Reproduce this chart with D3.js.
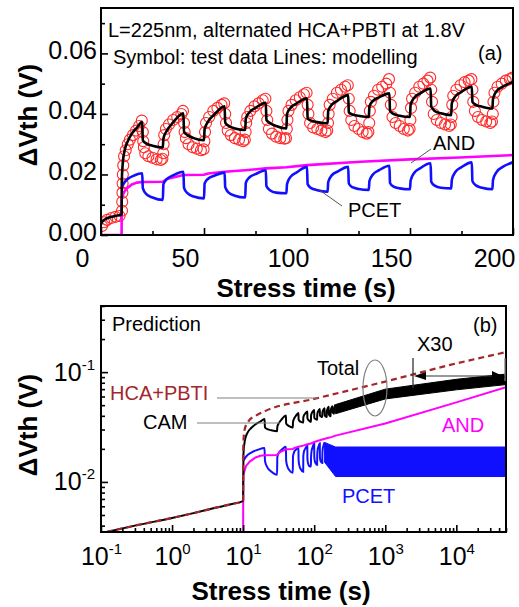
<!DOCTYPE html>
<html>
<head>
<meta charset="utf-8">
<script src="https://cdn.jsdelivr.net/npm/d3@7"></script>
<style>
  body { margin: 0; background: #fff; }
  text { font-family: "Liberation Sans", Arial, sans-serif; }
</style>
</head>
<body>
<svg id="fig" width="519" height="607"></svg>
<script>
// ---- data: [time (s), dVth (V)] ----
const drift = [[0.12,0.0035],[0.3,0.0040],[1,0.0047],[2,0.0052],[4.5,0.0059],[7,0.0063],[9.9,0.0067]];

const testData = [
  [0.5,0.0030],[1.5,0.0042],[3,0.0050],[5,0.0056],[7,0.0060],[9,0.0063],
  [10.2,0.008],[10.3,0.011],[10.4,0.014],[10.5,0.017],[10.6,0.020],[10.8,0.023],[11.2,0.026],[12,0.028],[13,0.030],[14,0.0315],[15.5,0.033],[17,0.0345],[18.5,0.036],[19.8,0.0378],
  [20.3,0.034],[20.5,0.031],[20.8,0.029],[21.5,0.027],[23,0.026],[25,0.0255],[27,0.025],[29,0.0248],[29.8,0.0252],
  [30.2,0.027],[30.4,0.030],[30.7,0.033],[31.5,0.035],[33,0.0365],[35,0.038],[37,0.039],[39,0.040],[39.8,0.041],
  [40.3,0.037],[40.6,0.034],[41.2,0.032],[42.5,0.030],[44.5,0.029],[46.5,0.0285],[48.5,0.028],[49.8,0.0283],
  [50.2,0.031],[50.5,0.034],[51,0.037],[52.5,0.039],[54.5,0.041],[56.5,0.042],[58.5,0.043],[59.8,0.0435],
  [60.3,0.040],[60.7,0.037],[61.5,0.0345],[63,0.033],[65,0.032],[67,0.0315],[69,0.031],[69.8,0.0315],
  [70.2,0.034],[70.5,0.037],[71,0.039],[72.5,0.041],[74.5,0.0425],[76.5,0.0435],[78.5,0.0445],[79.8,0.045],
  [80.3,0.041],[80.7,0.038],[81.5,0.035],[83,0.0335],[85,0.0325],[87,0.032],[89,0.0318],[89.8,0.032],
  [90.2,0.035],[90.5,0.038],[91,0.041],[92.5,0.043],[94.5,0.0445],[96.5,0.0455],[98.5,0.0465],[99.8,0.047],
  [100.3,0.043],[100.7,0.040],[101.5,0.037],[103,0.0355],[105,0.035],[107,0.0345],[109,0.034],[109.8,0.0345],
  [110.2,0.037],[110.5,0.040],[111,0.043],[112.5,0.045],[114.5,0.047],[116.5,0.048],[118.5,0.049],[119.8,0.0495],
  [120.3,0.045],[120.7,0.041],[121.5,0.038],[123,0.036],[125,0.035],[127,0.034],[129,0.0335],[129.8,0.034],
  [130.2,0.037],[130.5,0.041],[131,0.044],[132.5,0.046],[134.5,0.048],[136.5,0.049],[138.5,0.050],[139.8,0.0515],
  [140.3,0.047],[140.7,0.043],[141.5,0.039],[143,0.037],[145,0.036],[147,0.035],[149,0.0345],[149.8,0.035],
  [150.2,0.038],[150.5,0.042],[151,0.045],[152.5,0.047],[154.5,0.049],[156.5,0.050],[158.5,0.051],[159.8,0.052],
  [160.3,0.048],[160.7,0.044],[161.5,0.040],[163,0.038],[165,0.037],[167,0.0365],[169,0.036],[169.8,0.0365],
  [170.2,0.039],[170.5,0.043],[171,0.046],[172.5,0.048],[174.5,0.0495],[176.5,0.0505],[178.5,0.051],[179.8,0.0515],
  [180.3,0.048],[180.7,0.044],[181.5,0.041],[183,0.039],[185,0.038],[187,0.0375],[189,0.037],[189.8,0.0375],
  [190.2,0.040],[190.5,0.044],[191,0.047],[192.5,0.049],[194.5,0.050],[196.5,0.051],[198.5,0.0515],[199.8,0.052]
];

const camModel = [
  [10,0.0068],[10.1,0.018],[10.6,0.024],[11.5,0.028],[13,0.031],[15,0.0335],[17.5,0.0355],[20,0.0374],
  [20.3,0.0313],[22,0.0302],[25,0.0295],[30,0.0289],
  [30.3,0.0319],[32,0.0345],[35,0.0372],[40,0.0402],
  [40.3,0.0341],[42,0.0330],[45,0.0320],[50,0.0313],
  [50.3,0.0350],[52,0.0375],[55,0.0398],[60,0.0425],
  [60.3,0.0371],[62,0.0360],[65,0.0352],[70,0.0347],
  [70.3,0.0385],[72,0.0405],[75,0.0420],[80,0.0437],
  [80.3,0.0380],[82,0.0370],[85,0.0360],[90,0.0352],
  [90.3,0.0400],[92,0.0420],[95,0.0435],[100,0.0452],
  [100.3,0.0385],[102,0.0378],[105,0.0373],[110,0.0369],
  [110.3,0.0410],[112,0.0430],[115,0.0445],[120,0.0462],
  [120.3,0.0405],[122,0.0398],[125,0.0394],[130,0.0390],
  [130.3,0.0425],[132,0.0443],[135,0.0455],[140,0.0468],
  [140.3,0.0410],[142,0.0400],[145,0.0394],[150,0.0390],
  [150.3,0.0430],[152,0.0453],[155,0.0468],[160,0.0484],
  [160.3,0.0425],[162,0.0410],[165,0.0402],[170,0.0396],
  [170.3,0.0435],[172,0.0458],[175,0.0473],[180,0.0490],
  [180.3,0.0440],[182,0.0430],[185,0.0424],[190,0.0418],
  [190.3,0.0450],[192,0.0475],[195,0.0490],[200,0.0506]
];

const pcetModel = [
  [10.05,0.0155],[11,0.0170],[13,0.0185],[16,0.0196],[20,0.0204],
  [20.3,0.0155],[22,0.0135],[25,0.0124],[30,0.0116],
  [30.3,0.0168],[32,0.0185],[35,0.0197],[40,0.0209],
  [40.3,0.0156],[42,0.0138],[45,0.0127],[50,0.0121],
  [50.3,0.0170],[52,0.0186],[55,0.0196],[60,0.0206],
  [60.3,0.0158],[62,0.0140],[65,0.0130],[70,0.0124],
  [70.3,0.0172],[72,0.0190],[75,0.0201],[80,0.0214],
  [80.3,0.0162],[82,0.0148],[85,0.0140],[90,0.0138],
  [90.3,0.0168],[92,0.0192],[95,0.0207],[100,0.0225],
  [100.3,0.0168],[102,0.0155],[105,0.0148],[110,0.0143],
  [110.3,0.0175],[112,0.0197],[115,0.0210],[120,0.0225],
  [120.3,0.0170],[122,0.0158],[125,0.0152],[130,0.0149],
  [130.3,0.0178],[132,0.0200],[135,0.0214],[140,0.0229],
  [140.3,0.0172],[142,0.0160],[145,0.0154],[150,0.0151],
  [150.3,0.0180],[152,0.0205],[155,0.0221],[160,0.0237],
  [160.3,0.0176],[162,0.0163],[165,0.0156],[170,0.0154],
  [170.3,0.0182],[172,0.0208],[175,0.0224],[180,0.0240],
  [180.3,0.0178],[182,0.0164],[185,0.0156],[190,0.0151],
  [190.3,0.0182],[192,0.0208],[195,0.0225],[200,0.0240]
];

const andModel = [
  [0,0],[10,0],[10.05,0.0116],[11,0.0140],[12.5,0.0154],[15,0.0167],[17.5,0.0173],[20,0.0175],
  [30,0.0176],[32,0.0185],[40,0.0198],[50,0.0199],[52,0.0203],[60,0.0209],[70,0.0214],
  [80,0.0220],[90,0.0224],[100,0.0231],[126,0.0242],[150,0.0250],[174,0.0256],[200,0.0264]
];

// panel (b) long-time prediction
const andPred = [[1000,0.034],[1e4,0.053],[5e4,0.073]];
const sumPred = [[10,0.0068],[10.05,0.022],[10.5,0.030],[12,0.036],[15,0.040],[20,0.044],[100,0.057],[1000,0.082],[1e4,0.12],[5e4,0.152]];
// dense sawtooth envelopes: [t, low, high]
const camBand = [[200,0.0418,0.0506],[1000,0.057,0.070],[1e4,0.069,0.086],[5e4,0.077,0.096]];
const pcetBand = [[140,0.0151,0.0229],[200,0.0112,0.0208],[5e4,0.0112,0.0208]];

const xTicksA = [0,50,100,150,200];
const xMinorA = [25,75,125,175];
const yTicksA = [0,0.02,0.04,0.06];
const yMinorA = [0.01,0.03,0.05,0.07];
const xDecB = [-1,0,1,2,3,4];
const yDecB = [-2,-1];

// ---- styles ----
const RED = "#ff2a2a", BLUE = "#1010ff", MAG = "#ff00ff", DRED = "#a3272a", GREY = "#808080";
const svg = d3.select("#fig");
const tickFont = 25;

// ================= panel (a) =================
const fa = {left: 101, right: 513, top: 8, bottom: 235};
const xA = d3.scaleLinear().domain([0, 200]).range([fa.left, fa.right]);
const yA = d3.scaleLinear().domain([0, 0.075]).range([fa.bottom, fa.top]);

svg.append("clipPath").attr("id", "clipA").append("rect")
  .attr("x", fa.left).attr("y", fa.top).attr("width", fa.right - fa.left).attr("height", fa.bottom - fa.top);

const gA = svg.append("g").attr("clip-path", "url(#clipA)");
const lineA = d3.line().x(d => xA(d[0])).y(d => yA(d[1])).curve(d3.curveMonotoneX);

gA.selectAll("circle").data(testData).join("circle")
  .attr("cx", d => xA(d[0])).attr("cy", d => yA(d[1])).attr("r", 5.5)
  .attr("fill", "none").attr("stroke", RED).attr("stroke-width", 1.1);

gA.append("path").datum(andModel).attr("d", d3.line().x(d => xA(d[0])).y(d => yA(d[1])))
  .attr("fill", "none").attr("stroke", MAG).attr("stroke-width", 2.6);
gA.append("path").datum(pcetModel).attr("d", lineA)
  .attr("fill", "none").attr("stroke", BLUE).attr("stroke-width", 2.6);
gA.append("path").datum(drift.concat(camModel)).attr("d", lineA)
  .attr("fill", "none").attr("stroke", "#000").attr("stroke-width", 2.6);

// axes (a)
const axXA = svg.append("g").attr("transform", `translate(0,${fa.bottom})`)
  .call(d3.axisBottom(xA).tickValues(xTicksA).tickSize(-7).tickPadding(14));
svg.append("g").attr("transform", `translate(0,${fa.bottom})`)
  .call(d3.axisBottom(xA).tickValues(xMinorA).tickSize(-4).tickFormat(""));
axXA.selectAll("text").attr("dx", -19);
const axYA = svg.append("g").attr("transform", `translate(${fa.left},0)`)
  .call(d3.axisLeft(yA).tickValues(yTicksA).tickSize(-7).tickPadding(4).tickFormat(d3.format(".2f")));
svg.append("g").attr("transform", `translate(${fa.left},0)`)
  .call(d3.axisLeft(yA).tickValues(yMinorA).tickSize(-4).tickFormat(""));
axYA.selectAll("text").attr("dy", "0.2em");

svg.append("rect").attr("x", fa.left).attr("y", fa.top)
  .attr("width", fa.right - fa.left).attr("height", fa.bottom - fa.top)
  .attr("fill", "none").attr("stroke", "#000").attr("stroke-width", 2);

// annotations (a)
svg.append("text").attr("x", 108).attr("y", 37).style("font-size", "20px").text("L=225nm, alternated HCA+PBTI at 1.8V");
svg.append("text").attr("x", 113).attr("y", 64).style("font-size", "20px").text("Symbol: test data Lines: modelling");
svg.append("text").attr("x", 478).attr("y", 60).style("font-size", "20px").text("(a)");
svg.append("text").attr("x", 433).attr("y", 150).style("font-size", "20px").text("AND");
svg.append("text").attr("x", 348).attr("y", 217).style("font-size", "20px").text("PCET");
svg.append("line").attr("x1", 431).attr("y1", 149).attr("x2", 411).attr("y2", 163).attr("stroke", "#555").attr("stroke-width", 1);
svg.append("line").attr("x1", 342).attr("y1", 206).attr("x2", 318).attr("y2", 189).attr("stroke", "#555").attr("stroke-width", 1);

// ================= panel (b) =================
const fb = {left: 101, right: 506, top: 306, bottom: 532};
const xB = d3.scaleLog().domain([0.1, 5e4]).range([fb.left, fb.right]);
const yB = d3.scaleLog().domain([0.0035, 0.4]).range([fb.bottom, fb.top]);
const yFloor = yB.domain()[0];

svg.append("clipPath").attr("id", "clipB").append("rect")
  .attr("x", fb.left).attr("y", fb.top).attr("width", fb.right - fb.left).attr("height", fb.bottom - fb.top);
const gB = svg.append("g").attr("clip-path", "url(#clipB)");
const lineB = d3.line().x(d => xB(d[0])).y(d => yB(Math.max(d[1], yFloor))).curve(d3.curveMonotoneX);
const bandB = d3.area().x(d => xB(d[0])).y0(d => yB(d[1])).y1(d => yB(d[2]));

// PCET: resolved cycles, then the dense band
gB.append("path").datum(pcetModel.filter(d => d[0] <= pcetBand[0][0])).attr("d", lineB)
  .attr("fill", "none").attr("stroke", BLUE).attr("stroke-width", 2);
gB.append("path").datum(pcetBand).attr("d", bandB).attr("fill", BLUE).attr("stroke", BLUE).attr("stroke-width", 1);

// AND
const andB = andModel.filter(d => d[0] >= 10).concat(andPred);
gB.append("path").datum(andB).attr("d", d3.line().x(d => xB(d[0])).y(d => yB(Math.max(d[1], yFloor))))
  .attr("fill", "none").attr("stroke", MAG).attr("stroke-width", 2);

// CAM total
gB.append("path").datum(drift.concat(camModel)).attr("d", lineB)
  .attr("fill", "none").attr("stroke", "#000").attr("stroke-width", 2);
gB.append("path").datum(camBand).attr("d", bandB).attr("fill", "#000").attr("stroke", "#000").attr("stroke-width", 1);

// HCA+PBTI sum (dashed)
gB.append("path").datum(drift.concat(sumPred)).attr("d", lineB)
  .attr("fill", "none").attr("stroke", DRED).attr("stroke-width", 2.2).attr("stroke-dasharray", "6,4");

// axes (b): labels as 10 with a superscript exponent
const supLabel = (sel) => {
  sel.each(function(d) {
    const e = Math.round(Math.log10(d));
    const t = d3.select(this).text("");
    t.append("tspan").text("10");
    t.append("tspan").attr("dy", -11).style("font-size", "15px").text(e);
  });
};
const xDecVals = xDecB.map(e => Math.pow(10, e));
const xMinorB = [];
xDecB.forEach(e => { for (let m = 2; m <= 9; m++) { const v = m * Math.pow(10, e); if (v <= 5e4) xMinorB.push(v); } });
const axXB = svg.append("g").attr("transform", `translate(0,${fb.bottom})`)
  .call(d3.axisBottom(xB).tickValues(xDecVals).tickSize(-7).tickPadding(15));
svg.append("g").attr("transform", `translate(0,${fb.bottom})`)
  .call(d3.axisBottom(xB).tickValues(xMinorB).tickSize(-4).tickFormat(""));
axXB.selectAll("text").call(supLabel);

const yDecVals = yDecB.map(e => Math.pow(10, e));
const yMinorB = [];
[-3, -2, -1].forEach(e => { for (let m = 2; m <= 9; m++) { const v = m * Math.pow(10, e); if (v >= 0.0035 && v <= 0.4) yMinorB.push(v); } });
const axYB = svg.append("g").attr("transform", `translate(${fb.left},0)`)
  .call(d3.axisLeft(yB).tickValues(yDecVals).tickSize(-7).tickPadding(6));
svg.append("g").attr("transform", `translate(${fb.left},0)`)
  .call(d3.axisLeft(yB).tickValues(yMinorB).tickSize(-4).tickFormat(""));
axYB.selectAll("text").call(supLabel);

svg.append("rect").attr("x", fb.left).attr("y", fb.top)
  .attr("width", fb.right - fb.left).attr("height", fb.bottom - fb.top)
  .attr("fill", "none").attr("stroke", "#000").attr("stroke-width", 2);

// common axis styling
svg.selectAll(".domain").remove();
svg.selectAll(".tick line").attr("stroke", "#000").attr("stroke-width", 1.6);
svg.selectAll(".tick text").attr("fill", "#000").style("font-size", tickFont + "px").style("font-family", '"Liberation Sans", Arial, sans-serif');

// annotations (b)
svg.append("text").attr("x", 112).attr("y", 331).style("font-size", "20px").text("Prediction");
svg.append("text").attr("x", 473).attr("y", 332).style("font-size", "20px").text("(b)");
svg.append("text").attr("x", 417).attr("y", 351).style("font-size", "20px").text("X30");
svg.append("text").attr("x", 317).attr("y", 375).style("font-size", "20px").text("Total");
svg.append("ellipse").attr("cx", 375).attr("cy", 388).attr("rx", 12).attr("ry", 28)
  .attr("fill", "none").attr("stroke", GREY).attr("stroke-width", 1.2);
svg.append("text").attr("x", 110).attr("y", 400).style("font-size", "20px").attr("fill", DRED).text("HCA+PBTI");
svg.append("line").attr("x1", 217).attr("y1", 398).attr("x2", 318).attr("y2", 398).attr("stroke", GREY).attr("stroke-width", 1.2);
svg.append("text").attr("x", 143).attr("y", 429).style("font-size", "20px").text("CAM");
svg.append("line").attr("x1", 197).attr("y1", 423).attr("x2", 280).attr("y2", 423).attr("stroke", GREY).attr("stroke-width", 1.2);
svg.append("text").attr("x", 442).attr("y", 432).style("font-size", "20px").attr("fill", MAG).text("AND");
svg.append("text").attr("x", 342).attr("y", 503).style("font-size", "20px").attr("fill", BLUE).text("PCET");

// X30 marker
svg.append("line").attr("x1", 413).attr("y1", 358).attr("x2", 413).attr("y2", 388).attr("stroke", "#333").attr("stroke-width", 1.3);
svg.append("line").attr("x1", 505).attr("y1", 358).attr("x2", 505).attr("y2", 381).attr("stroke", GREY).attr("stroke-width", 1.3);
svg.append("line").attr("x1", 420).attr("y1", 376).attr("x2", 496).attr("y2", 376).attr("stroke", "#333").attr("stroke-width", 1.2);
svg.append("path").attr("d", "M414,376 L426,372 L426,380 Z").attr("fill", "#000");
svg.append("path").attr("d", "M505,377 L492,371 L492,383 Z").attr("fill", "#000");

// axis titles
const titleStyle = s => s.style("font-size", "26px").style("font-weight", "bold");
svg.append("text").attr("x", 306).attr("y", 297).attr("text-anchor", "middle").call(titleStyle).text("Stress time (s)");
svg.append("text").attr("x", 281).attr("y", 600).attr("text-anchor", "middle").call(titleStyle).text("Stress time (s)");
svg.append("text").attr("transform", "translate(37,115) rotate(-90)").attr("text-anchor", "middle").call(titleStyle).text("ΔVth (V)");
svg.append("text").attr("transform", "translate(37,425) rotate(-90)").attr("text-anchor", "middle").call(titleStyle).text("ΔVth (V)");
</script>
</body>
</html>
